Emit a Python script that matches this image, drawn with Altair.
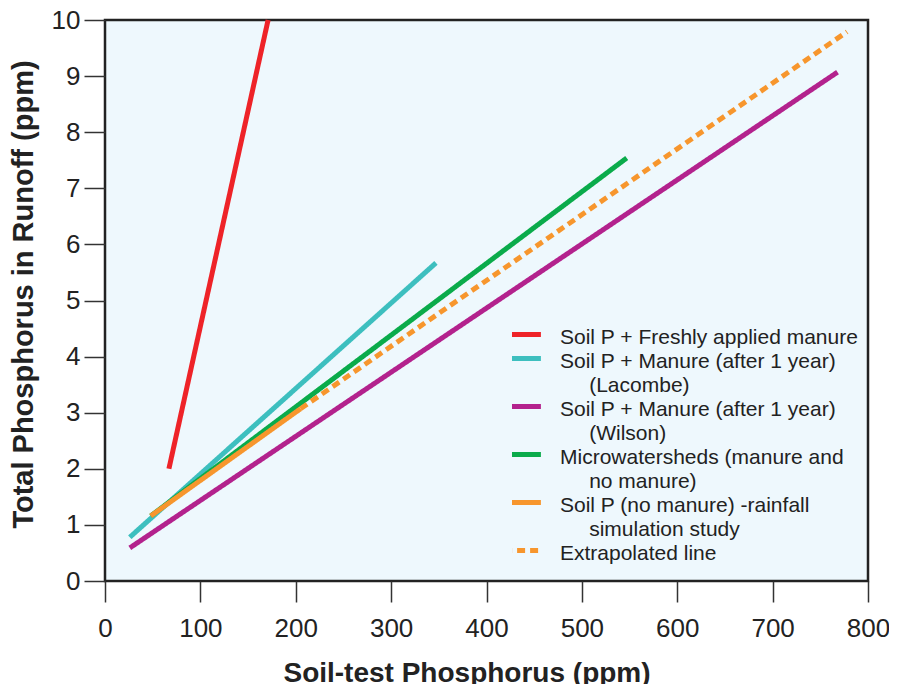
import altair as alt
import pandas as pd

IND = "\u200b" + "\u00a0" * 5  # indentation for continuation lines of the legend

# Legend rows (continuation lines are rows without a line of their own)
legend_rows = [
    "Soil P + Freshly applied manure",
    "Soil P + Manure (after 1 year)",
    IND + "(Lacombe)",
    "Soil P + Manure (after 1 year)\u200b",
    IND + "(Wilson)",
    "Microwatersheds (manure and",
    IND + "no manure)",
    "Soil P (no manure) -rainfall",
    IND + "simulation study",
    "Extrapolated line",
]
row_colors = ["#ee2328", "#3dbfbf", "transparent", "#b3228d", "transparent",
              "#0aab4b", "transparent", "#f7962d", "transparent", "#f7962d"]
row_dashes = [[1, 0]] * 9 + [[8, 5]]

# plotted series (index into legend_rows) and line end points
series_idx = [0, 1, 3, 5, 7, 9]
x_start = [67, 26, 26, 48, 48, 205]
y_start = [2.0, 0.78, 0.59, 1.16, 1.16, 3.07]
x_end = [171, 347, 768, 547, 205, 778]
y_end = [10.0, 5.67, 9.07, 7.54, 3.07, 9.79]

rows = []
for i, k in enumerate(series_idx):
    s = legend_rows[k]
    rows.append({"series": s, "order": i, "x": x_start[i], "y": y_start[i]})
    rows.append({"series": s, "order": i, "x": x_end[i], "y": y_end[i]})
df = pd.DataFrame(rows)

x_ticks = [0, 100, 200, 300, 400, 500, 600, 700, 800]
y_ticks = [0, 1, 2, 3, 4, 5, 6, 7, 8, 9, 10]

FONT = "Liberation Sans"

legend = alt.Legend(
    title=None,
    orient="none",
    legendX=407,
    legendY=306,
    padding=0,
    rowPadding=0,
    clipHeight=23.5,
    labelFont=FONT,
    labelFontSize=21,
    labelColor="#222222",
    labelLimit=600,
    labelOffset=27,
    labelBaseline="middle",
    symbolType="M-4.6,-0.8L4.6,-0.8",
    symbolSize=64,
    symbolStrokeWidth=5,
)

chart = (
    alt.Chart(df)
    .mark_line(strokeWidth=5, strokeCap="butt")
    .encode(
        x=alt.X(
            "x:Q",
            scale=alt.Scale(domain=[0, 800], nice=False),
            axis=alt.Axis(
                values=x_ticks,
                title="Soil-test Phosphorus (ppm)",
                titleX=361.5,
                titleY=92,
                titleAlign="center",
                titleBaseline="middle",
                labelPadding=13,
                labelFlush=False,
            ),
        ),
        y=alt.Y(
            "y:Q",
            scale=alt.Scale(domain=[0, 10], nice=False),
            axis=alt.Axis(
                values=y_ticks,
                title="Total Phosphorus in Runoff (ppm)",
                titleX=-82,
                titleY=274,
                titleAlign="center",
                titleBaseline="middle",
                titleFontSize=29,
                labelPadding=4,
                labelFlush=False,
            ),
        ),
        color=alt.Color(
            "series:N",
            sort=legend_rows,
            scale=alt.Scale(domain=legend_rows, range=row_colors),
            legend=legend,
        ),
        strokeDash=alt.StrokeDash(
            "series:N",
            sort=legend_rows,
            scale=alt.Scale(domain=legend_rows, range=row_dashes),
            legend=legend,
        ),
        order=alt.Order("order:Q"),
        detail="series:N",
    )
    .properties(
        width=763,
        height=561,
        autosize=alt.AutoSizeParams(type="none"),
        padding={"left": 97, "top": 12, "right": 21, "bottom": 103},
    )
    .configure_view(fill="#eef8fd", stroke="#222222", strokeWidth=2.5)
    .configure_axis(
        domain=False,
        grid=False,
        ticks=True,
        tickSize=21,
        tickColor="#333333",
        tickWidth=1.5,
        labelFont=FONT,
        labelFontSize=26,
        labelColor="#222222",
        titleFont=FONT,
        titleFontSize=28,
        titleFontWeight="bold",
        titleColor="#222222",
    )
)

chart.save("out.html", embed_options={"renderer": "svg", "actions": False})
